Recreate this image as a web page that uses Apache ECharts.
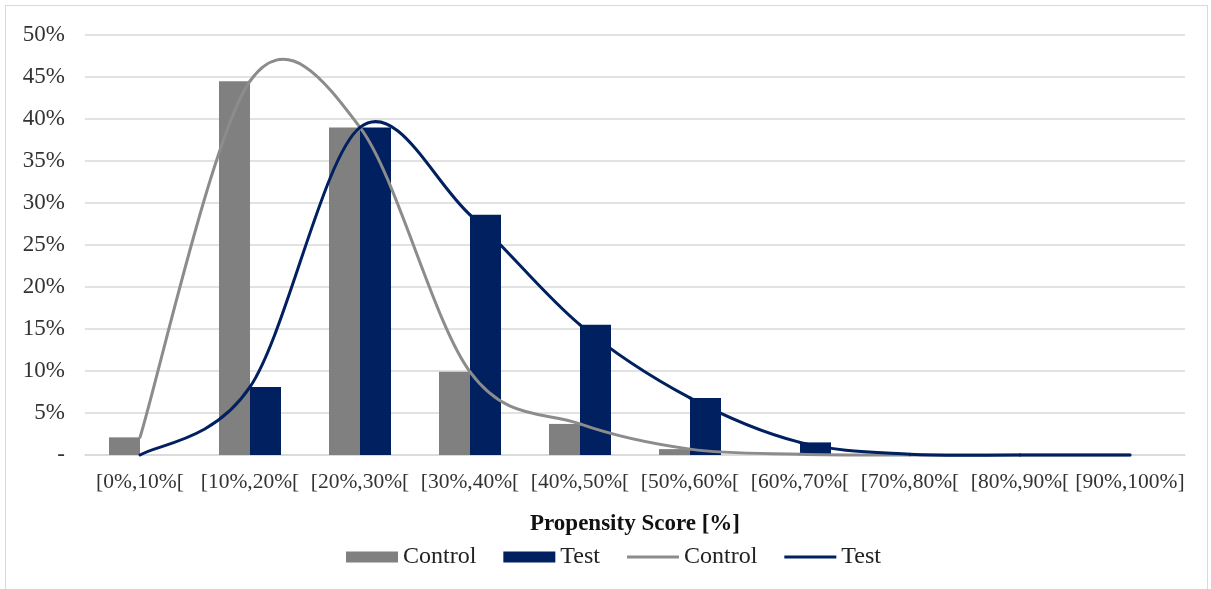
<!DOCTYPE html>
<html>
<head>
<meta charset="utf-8">
<script src="https://cdn.jsdelivr.net/npm/echarts@6/dist/echarts.min.js"></script>
<style>
html,body{margin:0;padding:0;background:#fff;}
#frame{position:absolute;left:5px;top:5px;width:1203px;height:590px;border:1px solid #d9d9d9;box-sizing:border-box;}
#chart{position:absolute;left:0;top:0;width:1211px;height:589px;}
</style>
</head>
<body>
<div id="frame"></div>
<div id="chart"></div>
<script>
const categories = ['[0%,10%[', '[10%,20%[', '[20%,30%[', '[30%,40%[', '[40%,50%[', '[50%,60%[', '[60%,70%[', '[70%,80%[', '[80%,90%[', '[90%,100%]'];
const controlValues = [2.1, 44.5, 39.0, 9.9, 3.7, 0.7, 0.1, 0, 0, 0];
const testValues = [0, 8.1, 39.0, 28.6, 15.5, 6.8, 1.5, 0.1, 0, 0];
const xAxisTitle = 'Propensity Score [%]';

const FONT = '"Liberation Serif", "Times New Roman", serif';
const GRAY = '#808080';
const LINEGRAY = '#8c8c8c';
const NAVY = '#002060';

// Excel-like smooth line (Catmull-Rom Bezier) drawn through the axis coordinate system
function smoothRenderer(values, color) {
  return function (params, api) {
    if (params.dataIndex !== 0) return null;
    const pts = values.map((v, i) => api.coord([i, v]));
    const n = pts.length;
    const children = [];
    for (let i = 0; i < n - 1; i++) {
      const p0 = pts[Math.max(i - 1, 0)], p1 = pts[i], p2 = pts[i + 1], p3 = pts[Math.min(i + 2, n - 1)];
      const t = 1 / 6;
      children.push({
        type: 'bezierCurve',
        shape: {
          x1: p1[0], y1: p1[1], x2: p2[0], y2: p2[1],
          cpx1: p1[0] + (p2[0] - p0[0]) * t, cpy1: p1[1] + (p2[1] - p0[1]) * t,
          cpx2: p2[0] - (p3[0] - p1[0]) * t, cpy2: p2[1] - (p3[1] - p1[1]) * t
        },
        style: {stroke: color, lineWidth: 3, fill: null, lineCap: 'round', lineJoin: 'round'}
      });
    }
    return {type: 'group', children: children};
  };
}

const chart = echarts.init(document.getElementById('chart'), null, {renderer: 'canvas'});
chart.setOption({
  animation: false,
  textStyle: {fontFamily: FONT},
  grid: {left: 85, right: 26, top: 35, bottom: 134, containLabel: false},
  legend: {
    top: 545,
    left: 346,
    padding: 0,
    itemWidth: 52,
    itemHeight: 11,
    itemGap: 27,
    textStyle: {fontFamily: FONT, fontSize: 24, color: '#222'},
    data: [
      {name: 'Control', icon: 'rect'},
      {name: 'Test', icon: 'rect'},
      {name: 'Control ', icon: 'path://M0,0 H53 V3 H0 Z', itemStyle: {color: LINEGRAY}},
      {name: 'Test ', icon: 'path://M0,0 H53 V3 H0 Z', itemStyle: {color: NAVY}}
    ],
    formatter: n => n.trim()
  },
  xAxis: {
    type: 'category',
    data: categories,
    name: xAxisTitle,
    nameLocation: 'middle',
    nameGap: 58,
    nameTextStyle: {fontFamily: FONT, fontSize: 23, fontWeight: 'bold', color: '#111'},
    axisLine: {show: true, lineStyle: {color: '#d9d9d9', width: 1.5}},
    axisTick: {show: false},
    axisLabel: {fontFamily: FONT, fontSize: 21.5, color: '#333', margin: 16, interval: 0}
  },
  yAxis: {
    type: 'value',
    min: 0, max: 50, interval: 5,
    axisLine: {show: false},
    axisTick: {show: false},
    splitLine: {lineStyle: {color: '#d9d9d9', width: 1.5}},
    axisLabel: {
      fontFamily: FONT, fontSize: 23, color: '#333', margin: 20,
      formatter: v => v === 0 ? '-' : v + '%'
    }
  },
  series: [
    {name: 'Control', type: 'bar', data: controlValues, barWidth: 31, barGap: '0%', itemStyle: {color: GRAY}, z: 2},
    {name: 'Test', type: 'bar', data: testValues, barWidth: 31, barGap: '0%', itemStyle: {color: NAVY}, z: 2},
    {name: 'Control ', type: 'custom', data: controlValues.map((v, i) => [i, v]),
      encode: {x: 0, y: 1}, renderItem: smoothRenderer(controlValues, LINEGRAY),
      itemStyle: {color: LINEGRAY}, z: 3, silent: true},
    {name: 'Test ', type: 'custom', data: testValues.map((v, i) => [i, v]),
      encode: {x: 0, y: 1}, renderItem: smoothRenderer(testValues, NAVY),
      itemStyle: {color: NAVY}, z: 4, silent: true}
  ]
});
</script>
</body>
</html>
